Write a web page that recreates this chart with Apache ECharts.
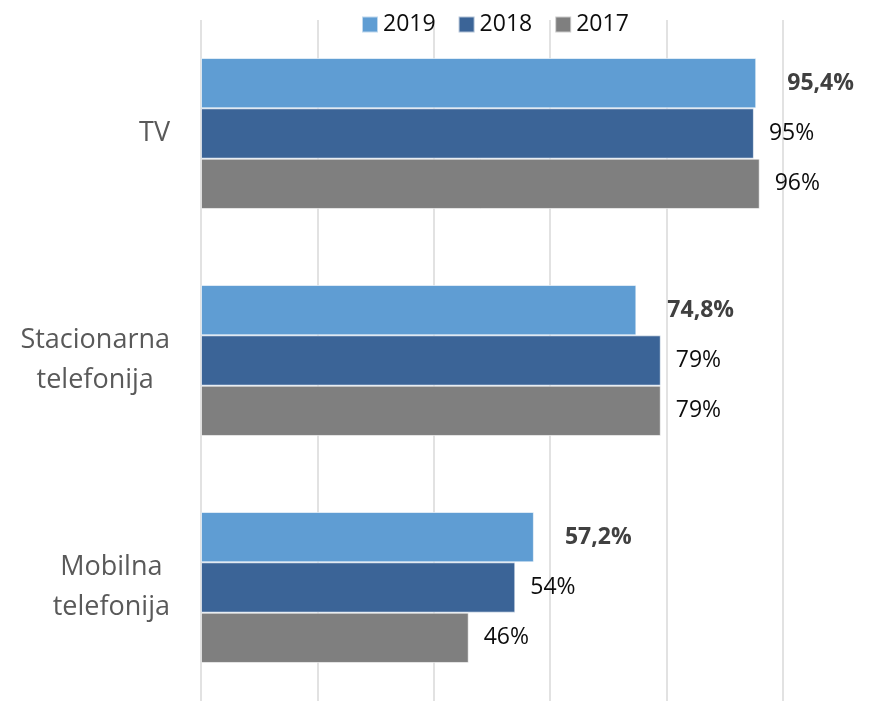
<!DOCTYPE html>
<html>
<head>
<meta charset="utf-8">
<script src="https://cdn.jsdelivr.net/npm/echarts@6/dist/echarts.min.js"></script>
<style>
html,body{margin:0;padding:0;background:#fff;}
#chart{width:895px;height:701px;}
</style>
</head>
<body>
<div id="chart"></div>
<script>
const categories = ['TV', 'Stacionarna\ntelefonija', 'Mobilna\ntelefonija'];
const seriesNames = ['2019', '2018', '2017'];
const values2019 = [95.4, 74.8, 57.2];
const values2018 = [95, 79, 54];
const values2017 = [96, 79, 46];
const colors = ['#5F9DD3', '#3B6497', '#7F7F7F'];
const xTicks = { min: 0, max: 100, interval: 20 };

const font = '"Open Sans", Lato, sans-serif';
const chart = echarts.init(document.getElementById('chart'));

function fmt(v, decimals) {
  return (decimals ? v.toFixed(1).replace('.', ',') : String(Math.round(v))) + '%';
}

const seriesData = [values2019, values2018, values2017];
const series = seriesData.map((vals, i) => ({
  name: seriesNames[i],
  type: 'bar',
  data: vals,
  barGap: '0%',
  barCategoryGap: '33.5%',
  itemStyle: { color: colors[i], borderColor: 'rgba(255,255,255,0.6)', borderWidth: 1 },
  label: {
    show: true,
    position: 'right',
    distance: i === 0 ? 31 : 15,
    fontFamily: font,
    fontSize: 23,
    fontWeight: i === 0 ? 'bold' : 'normal',
    color: i === 0 ? '#404040' : '#0d0d0d',
    formatter: p => fmt(p.value, i === 0)
  }
}));

chart.setOption({
  animation: false,
  color: colors,
  legend: {
    top: 8,
    left: 356,
    itemWidth: 16,
    itemHeight: 16,
    itemGap: 22,
    icon: 'rect',
    textStyle: { fontFamily: font, fontSize: 23, color: '#0d0d0d' },
    data: seriesNames
  },
  grid: { left: 201, width: 582, top: 20, height: 686, containLabel: false },
  xAxis: {
    type: 'value',
    min: xTicks.min, max: xTicks.max, interval: xTicks.interval,
    axisLabel: { show: false },
    axisLine: { show: false },
    axisTick: { show: false },
    splitLine: { show: true, lineStyle: { color: '#d9d9d9', width: 1.5 } }
  },
  yAxis: {
    type: 'category',
    inverse: true,
    data: categories,
    axisLine: { show: false },
    axisTick: { show: false },
    axisLabel: {
      margin: 31,
      fontFamily: font,
      fontSize: 27,
      color: '#595959',
      lineHeight: 40,
      formatter: v => v.split('\n').map(s => '{c|' + s + '}').join('\n'),
      rich: { c: { align: 'center', fontFamily: font, fontSize: 27, color: '#595959', lineHeight: 40 } }
    }
  },
  series: series
});
</script>
</body>
</html>
